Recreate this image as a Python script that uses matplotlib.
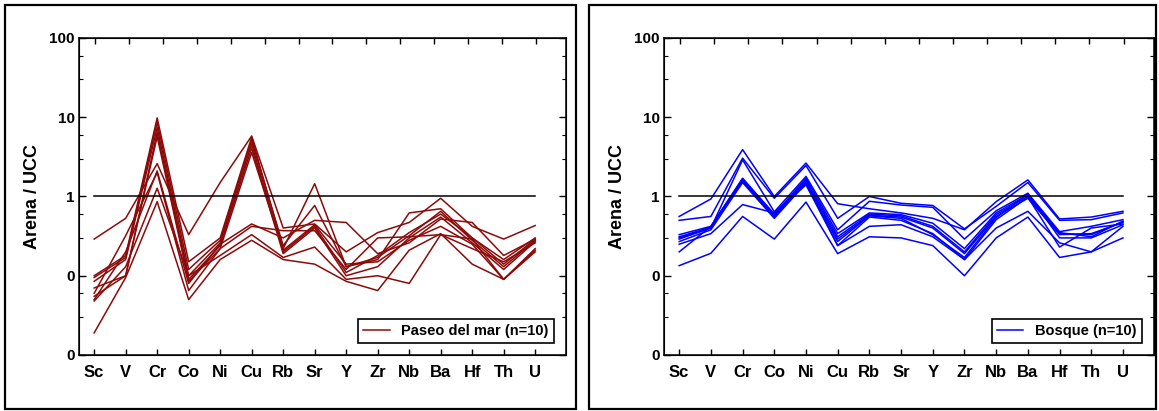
import numpy as np
import matplotlib
matplotlib.use("Agg")
import matplotlib.pyplot as plt
from matplotlib.patches import Rectangle
from matplotlib.ticker import FixedLocator, FixedFormatter, NullFormatter

plt.rcParams['font.family'] = ['Liberation Sans', 'DejaVu Sans']
plt.rcParams['font.weight'] = 'bold'

elements = ["Sc", "V", "Cr", "Co", "Ni", "Cu", "Rb", "Sr", "Y", "Zr", "Nb", "Ba", "Hf", "Th", "U"]

# Paseo del mar, 10 samples (Arena / UCC)
paseo = [
    [0.29, 0.53, 2.6, 0.33, 1.5, 5.8, 0.40, 0.45, 0.20, 0.35, 0.47, 0.95, 0.42, 0.29, 0.43],
    [0.10, 0.18, 9.8, 0.15, 0.30, 5.6, 0.22, 1.45, 0.13, 0.16, 0.62, 0.70, 0.30, 0.16, 0.30],
    [0.095, 0.17, 8.6, 0.12, 0.28, 5.1, 0.24, 0.77, 0.13, 0.17, 0.32, 0.65, 0.28, 0.13, 0.28],
    [0.085, 0.16, 7.4, 0.10, 0.26, 4.6, 0.20, 0.42, 0.11, 0.18, 0.35, 0.60, 0.30, 0.14, 0.29],
    [0.07, 0.10, 6.4, 0.09, 0.24, 4.1, 0.19, 0.40, 0.10, 0.13, 0.30, 0.55, 0.26, 0.12, 0.27],
    [0.055, 0.10, 5.7, 0.085, 0.22, 3.6, 0.21, 0.44, 0.14, 0.15, 0.28, 0.42, 0.25, 0.09, 0.22],
    [0.05, 0.20, 2.1, 0.08, 0.25, 0.45, 0.30, 0.50, 0.47, 0.19, 0.26, 0.52, 0.47, 0.18, 0.29],
    [0.06, 0.32, 2.0, 0.065, 0.22, 0.42, 0.37, 0.37, 0.12, 0.30, 0.31, 0.33, 0.22, 0.15, 0.26],
    [0.048, 0.13, 1.27, 0.10, 0.18, 0.33, 0.17, 0.23, 0.09, 0.10, 0.08, 0.33, 0.29, 0.09, 0.20],
    [0.019, 0.095, 0.86, 0.05, 0.16, 0.28, 0.16, 0.14, 0.085, 0.065, 0.21, 0.34, 0.14, 0.09, 0.21],
]

# Bosque, 10 samples (Arena / UCC)
bosque = [
    [0.56, 0.93, 3.9, 1.0, 2.64, 0.81, 0.70, 0.62, 0.53, 0.38, 0.86, 1.62, 0.52, 0.55, 0.65],
    [0.50, 0.56, 3.05, 0.95, 2.46, 0.53, 1.0, 0.82, 0.77, 0.39, 0.75, 1.50, 0.50, 0.51, 0.62],
    [0.30, 0.40, 2.9, 0.64, 1.79, 0.38, 0.87, 0.78, 0.73, 0.29, 0.66, 1.10, 0.36, 0.42, 0.51],
    [0.33, 0.42, 1.70, 0.59, 1.70, 0.34, 0.62, 0.59, 0.46, 0.22, 0.62, 1.05, 0.35, 0.31, 0.49],
    [0.31, 0.41, 1.62, 0.56, 1.62, 0.31, 0.60, 0.57, 0.42, 0.20, 0.59, 1.0, 0.34, 0.33, 0.48],
    [0.29, 0.40, 1.55, 0.55, 1.55, 0.29, 0.58, 0.55, 0.40, 0.19, 0.56, 0.95, 0.33, 0.34, 0.47],
    [0.27, 0.38, 1.50, 0.53, 1.47, 0.27, 0.57, 0.53, 0.33, 0.17, 0.54, 1.08, 0.30, 0.30, 0.44],
    [0.20, 0.42, 1.67, 0.60, 1.50, 0.24, 0.55, 0.50, 0.34, 0.16, 0.51, 0.98, 0.23, 0.40, 0.45],
    [0.25, 0.34, 0.79, 0.62, 1.40, 0.24, 0.42, 0.44, 0.31, 0.16, 0.40, 0.65, 0.26, 0.20, 0.42],
    [0.134, 0.192, 0.56, 0.29, 0.85, 0.19, 0.31, 0.30, 0.24, 0.10, 0.30, 0.55, 0.17, 0.20, 0.30],
]

ytick_vals = [0.01, 0.1, 1, 10, 100]
ytick_labels = ["0", "0", "1", "10", "100"]

panels = [
    (paseo, "#8b0a0a", "Paseo del mar (n=10)", [0.0682, 0.1363, 0.4202, 0.7713], [0.0043, 0.005, 0.4927, 0.983]),
    (bosque, "#0000ff", "Bosque (n=10)", [0.5729, 0.1363, 0.4228, 0.7713], [0.5082, 0.005, 0.4895, 0.983]),
]

fig = plt.figure(figsize=(11.59, 4.11), dpi=100)

x = np.arange(len(elements))
for data, color, label, rect, frame in panels:
    fig.patches.append(Rectangle((frame[0], frame[1]), frame[2], frame[3], transform=fig.transFigure,
                                 fill=False, edgecolor="black", linewidth=1.6))
    ax = fig.add_axes(rect)
    for i, row in enumerate(data):
        ax.plot(x, row, color=color, lw=1.1, label=label if i == 0 else None)
    ax.plot([x[0], x[-1]], [1, 1], color="black", lw=1.1)
    ax.set_yscale("log")
    ax.set_ylim(0.01, 100)
    ax.set_xlim(-0.48, 14.98)
    ax.yaxis.set_major_locator(FixedLocator(ytick_vals))
    ax.yaxis.set_major_formatter(FixedFormatter(ytick_labels))
    minors = [m * d for d in [0.01, 0.1, 1, 10] for m in (3, 6)]
    ax.yaxis.set_minor_locator(FixedLocator(minors))
    ax.yaxis.set_minor_formatter(NullFormatter())
    ax.set_xticks(x)
    ax.set_xticklabels(elements, fontsize=12, fontweight="bold")
    for t in ax.get_yticklabels():
        t.set_fontsize(11)
        t.set_fontweight("bold")
    ax.tick_params(axis="x", which="both", direction="in", top=False, length=4, width=1, pad=7)
    ax.tick_params(axis="y", which="major", direction="in", right=True, length=5, width=1, pad=3)
    ax.tick_params(axis="y", which="minor", direction="in", right=True, length=3, width=0.8)
    for s in ax.spines.values():
        s.set_linewidth(1.1)
    ax.set_ylabel("Arena / UCC", fontsize=13, fontweight="bold", labelpad=6)

    top = ax.twiny()
    top.set_xlim(ax.get_xlim())
    top.set_xticks(np.linspace(0.03, 14.02, 14))
    top.set_xticklabels([])
    top.tick_params(axis="x", direction="in", length=4, width=1)

    leg = ax.legend(loc="lower right", bbox_to_anchor=(0.975, 0.038), borderaxespad=0,
                    fancybox=False, framealpha=1, edgecolor="black", handlelength=1.8,
                    prop={"size": 10.5, "weight": "bold"}, borderpad=0.35)
    leg.get_frame().set_linewidth(1.2)

fig.savefig("out.png", dpi=100)
